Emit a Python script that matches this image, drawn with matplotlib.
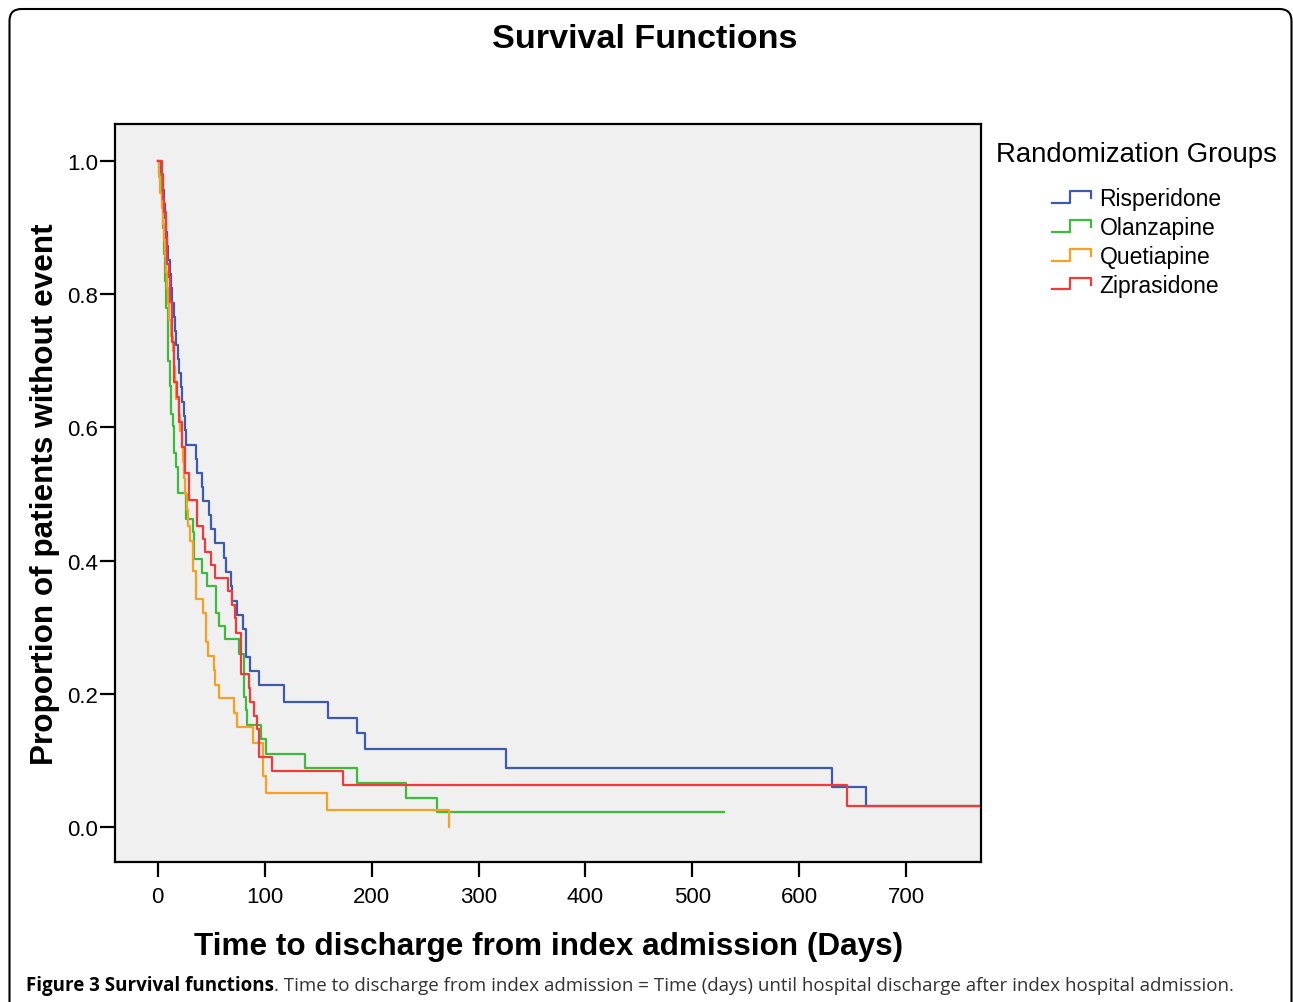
import matplotlib
matplotlib.use("Agg")
import matplotlib.pyplot as plt
from matplotlib.lines import Line2D
from matplotlib.legend_handler import HandlerBase
from matplotlib.patches import FancyBboxPatch
from matplotlib.transforms import IdentityTransform

plt.rcParams['font.family'] = ['Liberation Sans', 'DejaVu Sans']

# Kaplan-Meier steps (days, proportion without event)
groups = ["Risperidone", "Olanzapine", "Quetiapine", "Ziprasidone"]
colors = ["#3d5aad", "#3dbb3d", "#f9a023", "#f23a3a"]

risp_t = [0, 3, 5, 6, 7, 8, 8.5, 9.5, 11, 12, 13.5, 15, 16, 17, 19, 20, 21.5, 23, 24.3, 25.3,
          26.7, 35.3, 37, 41, 42, 48, 49.6, 54, 61.8, 63.6, 68.3, 69.9, 74.2, 79.3, 82.3, 86.1,
          94.8, 117.9, 159.4, 186.4, 193.7, 325.7, 631, 662.5, 780]
risp_s = [1.0, .979, .957, .936, .915, .894, .872, .851, .830, .809, .787, .766, .745, .723, .702,
          .681, .660, .638, .617, .596, .574, .553, .532, .511, .489, .468, .447, .426, .404, .383,
          .362, .340, .319, .298, .255, .234, .213, .187, .164, .141, .117, .0886, .0596, .031, .031]

olan_t = [0, 1.5, 3, 4, 4.5, 5, 5.6, 6.2, 6.8, 7.2, 7.6, 8.1, 9.7, 11.2, 12.8, 14.3, 15.3, 16.8,
          19, 26.2, 33, 34, 41.8, 46.5, 54.9, 57.4, 62.7, 76.1, 80.8, 82.3, 83.9, 96.4, 100.8,
          137.6, 186, 231.8, 261.4, 530]
olan_s = [1.0, .98, .96, .94, .92, .90, .88, .86, .84, .82, .80, .78, .70, .662, .62, .602, .562,
          .541, .502, .462, .443, .402, .382, .362, .322, .302, .282, .260, .195, .175, .153, .132,
          .110, .088, .066, .044, .022, .022]

quet_t = [0, 1.5, 2.5, 3.5, 4.5, 5.5, 6.5, 7.5, 8.5, 9.5, 10.5, 12, 14, 15, 16, 17.5, 19.5, 21,
          22.5, 23.7, 24.5, 25.5, 27, 28.5, 30, 32.5, 36, 42, 45.5, 47, 52.5, 53.5, 57.5, 71.5,
          73.7, 89.3, 98, 101, 158, 272.3]
quet_s = [1.0, .976, .952, .929, .905, .881, .857, .833, .810, .786, .762, .738, .714, .690, .667,
          .643, .619, .595, .571, .548, .524, .500, .476, .452, .429, .385, .342, .322, .278, .257,
          .235, .213, .193, .171, .150, .126, .077, .051, .026, 0.0]

zipr_t = [0, 3.5, 5, 5.8, 7.5, 8.7, 10.3, 11.9, 13.4, 15, 18, 19.7, 22.7, 25.3, 29, 37.1, 42.4,
          44, 50.2, 54, 65.8, 69, 72.7, 73.6, 77.8, 85, 86.4, 90, 93, 94.8, 107.2, 172.8, 644.5, 780]
zipr_s = [1.0, .98, .943, .923, .884, .845, .826, .788, .728, .668, .646, .608, .570, .532, .491,
          .452, .433, .413, .394, .374, .354, .334, .314, .292, .230, .208, .188, .167, .147, .105,
          .0845, .063, .032, .032]

series = [(risp_t, risp_s), (olan_t, olan_s), (quet_t, quet_s), (zipr_t, zipr_s)]

x_ticks = [0, 100, 200, 300, 400, 500, 600, 700]
y_ticks = [0.0, 0.2, 0.4, 0.6, 0.8, 1.0]


class StepHandle(HandlerBase):
    # little step-shaped legend key, like SPSS draws it
    def create_artists(self, legend, orig_handle, xdescent, ydescent,
                       width, height, fontsize, trans):
        x0, y0 = -xdescent, -ydescent
        xs = [x0, x0 + 0.45 * width, x0 + 0.45 * width, x0 + width, x0 + width]
        ys = [y0 + 0.15 * height, y0 + 0.15 * height, y0 + 0.85 * height,
              y0 + 0.85 * height, y0 + 0.45 * height]
        line = Line2D(xs, ys, color=orig_handle.get_color(),
                      linewidth=orig_handle.get_linewidth())
        line.set_transform(trans)
        return [line]


W, H = 1293, 1003
fig = plt.figure(figsize=(W / 100, H / 100), dpi=100)
ax = fig.add_axes([115 / W, 1 - 863 / H, 866 / W, 738 / H])
ax.set_facecolor("#f0f0f0")

handles = []
for (t, s), c, name in zip(series, colors, groups):
    ln, = ax.step(t, s, where='post', color=c, linewidth=1.6, label=name)
    handles.append(ln)

ax.set_xlim(-40, 770)
ax.set_ylim(-0.0526, 1.0556)
ax.set_xticks(x_ticks)
ax.set_yticks(y_ticks)
ax.set_yticklabels(["%.1f" % v for v in y_ticks])
ax.tick_params(axis='both', length=11, width=1.6, labelsize=16, color='black')
ax.tick_params(axis='y', pad=1)
ax.tick_params(axis='x', pad=6)
for sp in ax.spines.values():
    sp.set_linewidth(1.6)

ax.set_xlabel("Time to discharge from index admission (Days)", fontsize=22.7, fontweight='bold',
              va='top')
ax.xaxis.set_label_coords(0.5006, -0.094)
ax.set_ylabel("Proportion of patients without event", fontsize=22.7, fontweight='bold')
ax.yaxis.set_label_coords(-0.063, 0.5)

fig.text(644.5 / W, 1 - 40 / H, "Survival Functions", fontsize=24.6, fontweight='bold',
         ha='center', va='center')

fig.text(996 / W, 1 - 155 / H, "Randomization Groups", fontsize=19.8, ha='left', va='center')
ax.legend(handles, groups, loc='upper left', bbox_to_anchor=(1052 / W, 1 - 188 / H),
          bbox_transform=fig.transFigure, frameon=False, fontsize=16.5, handlelength=1.72,
          handletextpad=0.35, labelspacing=0.26, borderpad=0, borderaxespad=0,
          handler_map={Line2D: StepHandle()})

# rounded frame around the figure panel
frame = FancyBboxPatch((9.5, -30), 1282, 1023, boxstyle="round,pad=0,rounding_size=12",
                       transform=IdentityTransform(), fill=False, edgecolor='black',
                       linewidth=1.5)
fig.add_artist(frame)

# caption: bold lead-in followed by regular text
cap_y = 1 - 986 / H
t1 = fig.text(26 / W, cap_y, "Figure 3 Survival functions", fontsize=13.5, fontweight='bold',
              family='Open Sans', ha='left', va='center')
fig.canvas.draw()
bb = t1.get_window_extent()
fig.text(bb.x1 / W, cap_y, ". Time to discharge from index admission = Time (days) until hospital "
         "discharge after index hospital admission.", fontsize=13.5, family='Open Sans',
         color='#333333', ha='left', va='center')

fig.savefig("out.png", dpi=100)
